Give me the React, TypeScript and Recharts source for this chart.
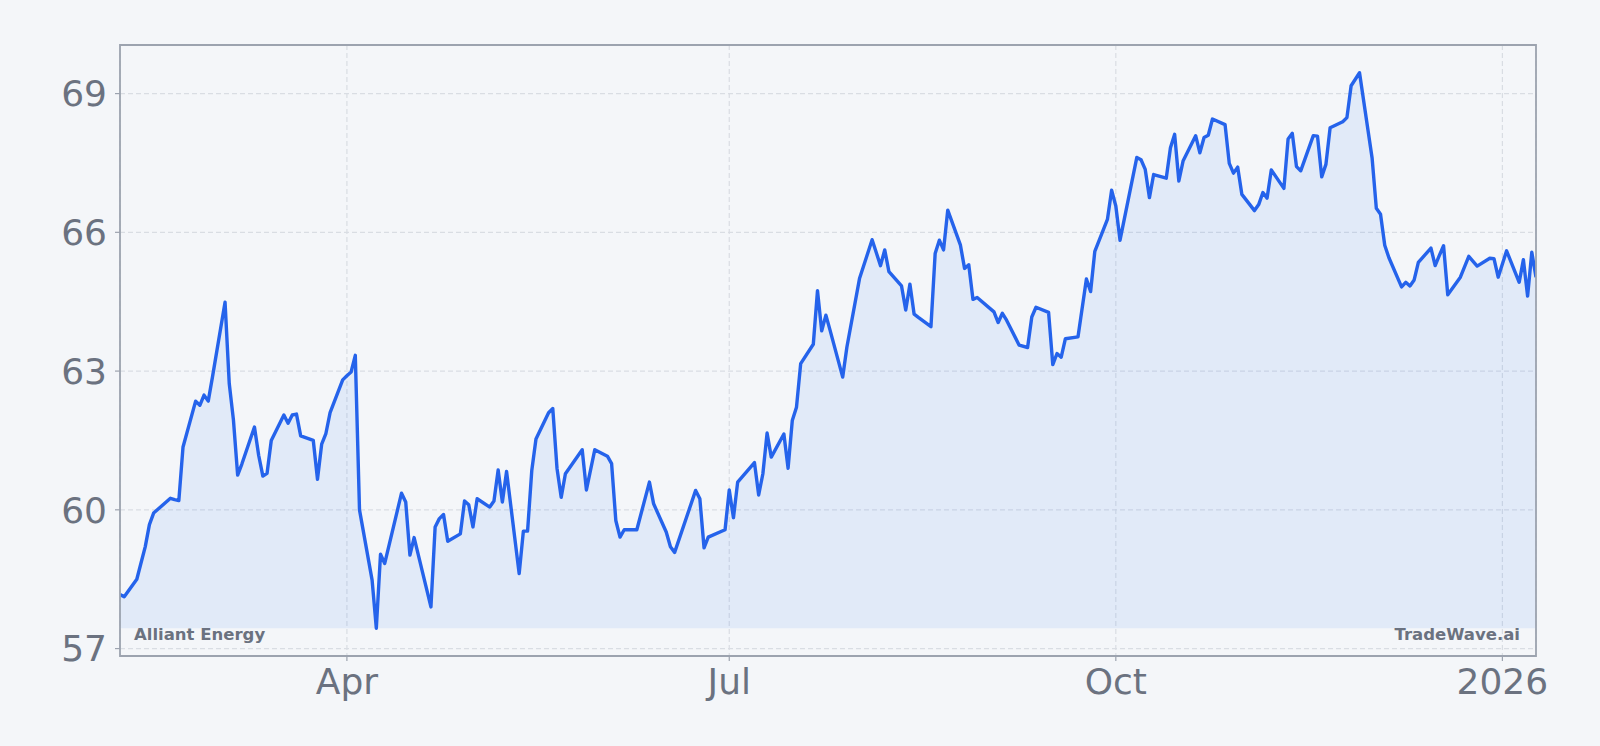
import {
  AreaChart,
  Area,
  XAxis,
  YAxis,
  CartesianGrid,
  ReferenceArea,
} from "recharts";

// closing prices (date, price)
const febMar: [string, number][] = [
  ["2025-02-06", 58.17], ["2025-02-07", 58.12], ["2025-02-10", 58.5], ["2025-02-11", 58.85],
  ["2025-02-12", 59.2], ["2025-02-13", 59.68], ["2025-02-14", 59.93], ["2025-02-18", 60.25],
  ["2025-02-19", 60.22], ["2025-02-20", 60.2], ["2025-02-21", 61.36], ["2025-02-24", 62.35],
  ["2025-02-25", 62.26], ["2025-02-26", 62.48], ["2025-02-27", 62.35], ["2025-02-28", 62.87],
  ["2025-03-03", 64.49], ["2025-03-04", 62.73], ["2025-03-05", 61.94], ["2025-03-06", 60.75],
  ["2025-03-07", 60.99], ["2025-03-10", 61.79], ["2025-03-11", 61.18], ["2025-03-12", 60.73],
  ["2025-03-13", 60.79], ["2025-03-14", 61.5], ["2025-03-17", 62.05], ["2025-03-18", 61.87],
  ["2025-03-19", 62.05], ["2025-03-20", 62.07], ["2025-03-21", 61.6], ["2025-03-24", 61.5],
  ["2025-03-25", 60.66], ["2025-03-26", 61.42], ["2025-03-27", 61.65], ["2025-03-28", 62.1],
  ["2025-03-31", 62.81],
];

const aprJun: [string, number][] = [
  ["2025-04-01", 62.9], ["2025-04-02", 62.98], ["2025-04-03", 63.34], ["2025-04-04", 60.0],
  ["2025-04-07", 58.48], ["2025-04-08", 57.44], ["2025-04-09", 59.04], ["2025-04-10", 58.84],
  ["2025-04-14", 60.36], ["2025-04-15", 60.17], ["2025-04-16", 59.02], ["2025-04-17", 59.4],
  ["2025-04-21", 57.9], ["2025-04-22", 59.63], ["2025-04-23", 59.81], ["2025-04-24", 59.9],
  ["2025-04-25", 59.32], ["2025-04-28", 59.48], ["2025-04-29", 60.19], ["2025-04-30", 60.11],
  ["2025-05-01", 59.63], ["2025-05-02", 60.24], ["2025-05-05", 60.06], ["2025-05-06", 60.19],
  ["2025-05-07", 60.86], ["2025-05-08", 60.17], ["2025-05-09", 60.83], ["2025-05-12", 58.62],
  ["2025-05-13", 59.54], ["2025-05-14", 59.54], ["2025-05-15", 60.85], ["2025-05-16", 61.53],
  ["2025-05-19", 62.1], ["2025-05-20", 62.19], ["2025-05-21", 60.9], ["2025-05-22", 60.27],
  ["2025-05-23", 60.78], ["2025-05-27", 61.3], ["2025-05-28", 60.43], ["2025-05-30", 61.3],
  ["2025-06-02", 61.16], ["2025-06-03", 61.0], ["2025-06-04", 59.77], ["2025-06-05", 59.41],
  ["2025-06-06", 59.57], ["2025-06-09", 59.57], ["2025-06-12", 60.6], ["2025-06-13", 60.13],
  ["2025-06-16", 59.52], ["2025-06-17", 59.2], ["2025-06-18", 59.08], ["2025-06-23", 60.42],
  ["2025-06-24", 60.24], ["2025-06-25", 59.18], ["2025-06-26", 59.41], ["2025-06-30", 59.57],
];

const julSep: [string, number][] = [
  ["2025-07-01", 60.43], ["2025-07-02", 59.83], ["2025-07-03", 60.6], ["2025-07-07", 61.02],
  ["2025-07-08", 60.32], ["2025-07-09", 60.78], ["2025-07-10", 61.66], ["2025-07-11", 61.14],
  ["2025-07-14", 61.64], ["2025-07-15", 60.9], ["2025-07-16", 61.93], ["2025-07-17", 62.22],
  ["2025-07-18", 63.16], ["2025-07-21", 63.58], ["2025-07-22", 64.74], ["2025-07-23", 63.87],
  ["2025-07-24", 64.21], ["2025-07-25", 63.88], ["2025-07-28", 62.87], ["2025-07-29", 63.52],
  ["2025-08-01", 65.0], ["2025-08-04", 65.84], ["2025-08-06", 65.28], ["2025-08-07", 65.62],
  ["2025-08-08", 65.15], ["2025-08-11", 64.84], ["2025-08-12", 64.32], ["2025-08-13", 64.88],
  ["2025-08-14", 64.23], ["2025-08-15", 64.16], ["2025-08-18", 63.96], ["2025-08-19", 65.54],
  ["2025-08-20", 65.83], ["2025-08-21", 65.62], ["2025-08-22", 66.48], ["2025-08-25", 65.73],
  ["2025-08-26", 65.22], ["2025-08-27", 65.3], ["2025-08-28", 64.55], ["2025-08-29", 64.59],
  ["2025-09-02", 64.28], ["2025-09-03", 64.05], ["2025-09-04", 64.25], ["2025-09-05", 64.1],
  ["2025-09-08", 63.56], ["2025-09-10", 63.51], ["2025-09-11", 64.17], ["2025-09-12", 64.38],
  ["2025-09-15", 64.27], ["2025-09-16", 63.14], ["2025-09-17", 63.38], ["2025-09-18", 63.3],
  ["2025-09-19", 63.7], ["2025-09-22", 63.74], ["2025-09-24", 64.99], ["2025-09-25", 64.72],
  ["2025-09-26", 65.59], ["2025-09-29", 66.28], ["2025-09-30", 66.91],
];

const octJan: [string, number][] = [
  ["2025-10-01", 66.57], ["2025-10-02", 65.83], ["2025-10-06", 67.62], ["2025-10-07", 67.57],
  ["2025-10-08", 67.36], ["2025-10-09", 66.75], ["2025-10-10", 67.25], ["2025-10-13", 67.17],
  ["2025-10-14", 67.83], ["2025-10-15", 68.12], ["2025-10-16", 67.11], ["2025-10-17", 67.54],
  ["2025-10-20", 68.09], ["2025-10-21", 67.72], ["2025-10-22", 68.05], ["2025-10-23", 68.1],
  ["2025-10-24", 68.45], ["2025-10-27", 68.33], ["2025-10-28", 67.49], ["2025-10-29", 67.28],
  ["2025-10-30", 67.41], ["2025-10-31", 66.82], ["2025-11-03", 66.47], ["2025-11-04", 66.6],
  ["2025-11-05", 66.86], ["2025-11-06", 66.74], ["2025-11-07", 67.35], ["2025-11-10", 66.95],
  ["2025-11-11", 68.02], ["2025-11-12", 68.14], ["2025-11-13", 67.42], ["2025-11-14", 67.33],
  ["2025-11-17", 68.09], ["2025-11-18", 68.08], ["2025-11-19", 67.2], ["2025-11-20", 67.47],
  ["2025-11-21", 68.26], ["2025-11-24", 68.39], ["2025-11-25", 68.48], ["2025-11-26", 69.17],
  ["2025-11-28", 69.45], ["2025-12-01", 67.6], ["2025-12-02", 66.52], ["2025-12-03", 66.39],
  ["2025-12-04", 65.72], ["2025-12-05", 65.45], ["2025-12-08", 64.82], ["2025-12-09", 64.92],
  ["2025-12-10", 64.84], ["2025-12-11", 64.97], ["2025-12-12", 65.35], ["2025-12-15", 65.66],
  ["2025-12-16", 65.28], ["2025-12-17", 65.5], ["2025-12-18", 65.71], ["2025-12-19", 64.65],
  ["2025-12-22", 65.03], ["2025-12-24", 65.48], ["2025-12-26", 65.27], ["2025-12-29", 65.44],
  ["2025-12-30", 65.43], ["2025-12-31", 65.03], ["2026-01-02", 65.6], ["2026-01-05", 64.92],
  ["2026-01-06", 65.41], ["2026-01-07", 64.62], ["2026-01-08", 65.57], ["2026-01-09", 65.03],
];

const X_TICKS = ["2025-04-01", "2025-07-01", "2025-10-01", "2026-01-01"];
const X_TICK_LABELS = ["Apr", "Jul", "Oct", "2026"];
const Y_TICKS = [57, 60, 63, 66, 69];

const COMPANY = "Alliant Energy";
const BRAND = "TradeWave.ai";

const toTime = (d: string) => new Date(d + "T00:00:00Z").getTime();

const data = [...febMar, ...aprJun, ...julSep, ...octJan].map(([d, v]) => ({
  t: toTime(d),
  price: v,
}));

const prices = data.map((p) => p.price);
const minPrice = Math.min(...prices);
const maxPrice = Math.max(...prices);
const pad = (maxPrice - minPrice) * 0.05; // matplotlib-style 5% margin
const yMin = minPrice - pad;
const yMax = maxPrice + pad;
const xMin = data[0].t;
const xMax = data[data.length - 1].t;
const xTicks = X_TICKS.map(toTime);

const BG = "#f4f6f9";
const TEXT = "#6b7280";
const FRAME = "#9ca3af";
const LINE = "#2563eb";
const FILL = "#3b82f6";

function xLabel(v: number) {
  const i = xTicks.indexOf(v);
  return i >= 0 ? X_TICK_LABELS[i] : "";
}

export default function App() {
  return (
    <div
      style={{
        position: "fixed",
        left: 0,
        top: 0,
        width: 1600,
        height: 746,
        background: BG,
        fontFamily: "'DejaVu Sans', sans-serif",
      }}
    >
      <AreaChart
        width={1600}
        height={746}
        data={data}
        margin={{ top: 45, right: 64, bottom: 50, left: 60 }}
      >
        <CartesianGrid stroke="#d9dde3" strokeDasharray="5 3" strokeWidth={1.2} />
        <XAxis
          dataKey="t"
          type="number"
          domain={[xMin, xMax]}
          ticks={xTicks}
          tickFormatter={xLabel}
          allowDataOverflow
          height={40}
          axisLine={false}
          tickLine={{ stroke: FRAME, strokeWidth: 1.2 }}
          tickSize={5}
          tickMargin={7}
          tick={{ fill: TEXT, fontSize: 36 }}
        />
        <YAxis
          type="number"
          domain={[yMin, yMax]}
          ticks={Y_TICKS}
          allowDataOverflow
          width={60}
          axisLine={false}
          tickLine={{ stroke: FRAME, strokeWidth: 1.2 }}
          tickSize={5}
          tickMargin={8}
          tick={{ fill: TEXT, fontSize: 36 }}
        />
        <Area
          type="linear"
          dataKey="price"
          stroke={LINE}
          strokeWidth={3.4}
          strokeLinejoin="round"
          fill={FILL}
          fillOpacity={0.1}
          baseValue={minPrice}
          dot={false}
          activeDot={false}
          isAnimationActive={false}
        />
        <ReferenceArea
          x1={xMin}
          x2={xMax}
          y1={yMin}
          y2={yMax}
          fill="none"
          stroke={FRAME}
          strokeWidth={1.8}
          ifOverflow="visible"
        />
      </AreaChart>
      <svg
        width={1600}
        height={746}
        style={{ position: "absolute", left: 0, top: 0, pointerEvents: "none" }}
      >
        <text x={134} y={640} fill={TEXT} fontSize={16.5} fontWeight="bold">
          {COMPANY}
        </text>
        <text x={1520} y={640} fill={TEXT} fontSize={16.5} fontWeight="bold" textAnchor="end">
          {BRAND}
        </text>
      </svg>
    </div>
  );
}
